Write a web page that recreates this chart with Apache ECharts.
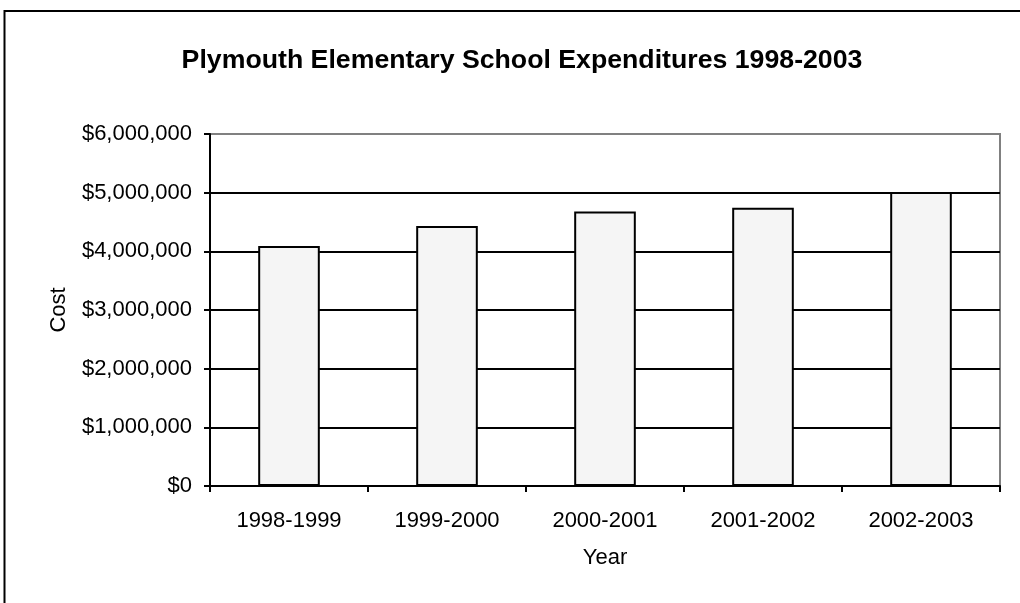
<!DOCTYPE html>
<html>
<head>
<meta charset="utf-8">
<script src="https://cdn.jsdelivr.net/npm/echarts@6/dist/echarts.min.js"></script>
<style>
html,body{margin:0;padding:0;background:#fff;}
#chart{width:1020px;height:603px;}
</style>
</head>
<body>
<div id="chart"></div>
<script>
const titleText = 'Plymouth Elementary School Expenditures 1998-2003';
const categories = ['1998-1999', '1999-2000', '2000-2001', '2001-2002', '2002-2003'];
const costValues = [4090000, 4430000, 4680000, 4745000, 5010000];
const xAxisName = 'Year';
const yAxisName = 'Cost';

const FONT = '"Liberation Sans", Arial, sans-serif';
const chart = echarts.init(document.getElementById('chart'), null, {renderer: 'canvas'});

function money(v) {
  return '$' + String(Math.round(v)).replace(/\B(?=(\d{3})+(?!\d))/g, ',');
}

chart.setOption({
  animation: false,
  backgroundColor: '#ffffff',
  title: {
    text: titleText,
    left: 517,
    top: 42,
    textAlign: 'center',
    textStyle: {fontFamily: FONT, fontSize: 26.7, fontWeight: 'bold', color: '#000'}
  },
  graphic: [{
    type: 'rect',
    shape: {x: 4.5, y: 11, width: 1100, height: 700},
    style: {fill: 'none', stroke: '#000', lineWidth: 2},
    silent: true
  }],
  grid: {
    left: 210, right: 20, top: 134, bottom: 117,
    show: true, borderColor: '#808080', borderWidth: 2, backgroundColor: 'transparent'
  },
  xAxis: {
    type: 'category',
    data: categories,
    boundaryGap: true,
    name: xAxisName,
    nameLocation: 'middle',
    nameGap: 61,
    nameTextStyle: {fontFamily: FONT, fontSize: 22, color: '#000'},
    axisLine: {lineStyle: {color: '#000', width: 2}},
    axisTick: {show: true, length: 6, inside: false, lineStyle: {color: '#000', width: 2}},
    axisLabel: {fontFamily: FONT, fontSize: 22, color: '#000', margin: 24},
    splitLine: {show: false}
  },
  yAxis: {
    type: 'value',
    min: 0, max: 6000000, interval: 1000000,
    name: yAxisName,
    nameLocation: 'middle',
    nameGap: 140,
    nameRotate: 90,
    nameTextStyle: {fontFamily: FONT, fontSize: 22, color: '#000'},
    axisLine: {show: true, lineStyle: {color: '#000', width: 2}},
    axisTick: {show: true, length: 6, inside: false, lineStyle: {color: '#000', width: 2}},
    axisLabel: {fontFamily: FONT, fontSize: 22, color: '#000', margin: 18, formatter: money},
    splitLine: {show: true, showMinLine: false, showMaxLine: false, lineStyle: {color: '#000', width: 2}}
  },
  series: [{
    type: 'bar',
    data: costValues,
    barWidth: '39%',
    itemStyle: {color: '#f5f5f5', borderColor: '#000', borderWidth: 2},
    emphasis: {disabled: true}
  }]
});
</script>
</body>
</html>
